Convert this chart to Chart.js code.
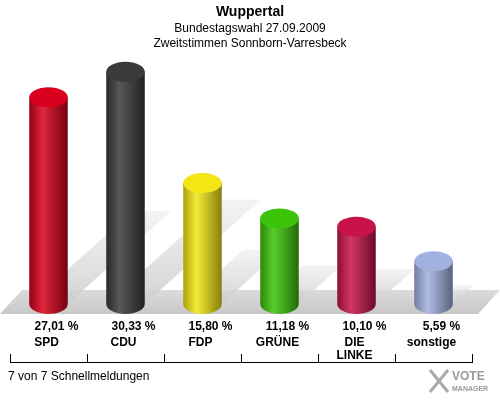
<!DOCTYPE html>
<html><head><meta charset="utf-8">
<script src="https://cdn.jsdelivr.net/npm/chart.js@4"></script>
<style>body{margin:0;background:#fff}#c{display:block}</style>
</head><body>
<canvas id="c" width="500" height="400"></canvas>
<script>
const parties = ['SPD', 'CDU', 'FDP', 'GRÜNE', 'DIE LINKE', 'sonstige']
const shares = [27.01, 30.33, 15.80, 11.18, 10.10, 5.59]
const colors = ['#d8001c', '#3a3a3a', '#f4e614', '#3cc40a', '#c8134a', '#a2b2e0']

function shade(hex, f) {
  const n = parseInt(hex.slice(1), 16)
  let r = n >> 16, g = (n >> 8) & 255, b = n & 255
  const m = v => Math.max(0, Math.min(255, Math.round(f > 0 ? v + (255 - v) * f : v * (1 + f))))
  return `rgb(${m(r)},${m(g)},${m(b)})`
}

const cylinders = {
  id: 'cylinders',
  beforeDatasetsDraw(chart) {
    const ctx = chart.ctx, a = chart.chartArea
    ctx.save()
    const fg = ctx.createLinearGradient(0, a.bottom - 22, 0, a.bottom + 10)
    fg.addColorStop(0, '#e2e2e2'); fg.addColorStop(1, '#c8c8c8')
    ctx.fillStyle = fg
    ctx.beginPath()
    ctx.moveTo(0, a.bottom + 10); ctx.lineTo(478, a.bottom + 10); ctx.lineTo(500, a.bottom - 14); ctx.lineTo(22, a.bottom - 14)
    ctx.closePath(); ctx.fill()
    const meta = chart.getDatasetMeta(0)
    meta.data.forEach(bar => {
      const w = bar.width, h = bar.base - bar.y
      const sg = ctx.createLinearGradient(0, bar.base, 0, bar.base - h * 0.45)
      sg.addColorStop(0, 'rgba(205,205,205,0.9)'); sg.addColorStop(1, 'rgba(235,235,235,0.6)')
      ctx.fillStyle = sg
      ctx.beginPath()
      ctx.moveTo(bar.x - w / 2, bar.base)
      ctx.lineTo(bar.x + w / 2, bar.base)
      ctx.lineTo(bar.x + w / 2 + h * 0.5, bar.base - h * 0.45)
      ctx.lineTo(bar.x - w / 2 + h * 0.5, bar.base - h * 0.45)
      ctx.closePath(); ctx.fill()
    })
    ctx.restore()
  },
  afterDatasetsDraw(chart) {
    const ctx = chart.ctx
    const meta = chart.getDatasetMeta(0)
    meta.data.forEach((bar, i) => {
      const w = bar.width, x0 = bar.x - w / 2, ry = 10
      const c = colors[i]
      const g = ctx.createLinearGradient(x0, 0, x0 + w, 0)
      g.addColorStop(0, shade(c, -0.3)); g.addColorStop(0.35, shade(c, 0.15)); g.addColorStop(1, shade(c, -0.45))
      ctx.save()
      ctx.fillStyle = g
      ctx.beginPath()
      ctx.moveTo(x0, bar.y)
      ctx.lineTo(x0, bar.base)
      ctx.ellipse(bar.x, bar.base, w / 2, ry, 0, Math.PI, 0, true)
      ctx.lineTo(x0 + w, bar.y)
      ctx.closePath(); ctx.fill()
      ctx.fillStyle = c
      ctx.beginPath(); ctx.ellipse(bar.x, bar.y, w / 2, ry, 0, 0, Math.PI * 2); ctx.fill()
      ctx.restore()
    })
  },
  afterDraw(chart) {
    const ctx = chart.ctx
    const meta = chart.getDatasetMeta(0)
    ctx.save()
    ctx.fillStyle = '#000'; ctx.textAlign = 'center'; ctx.textBaseline = 'middle'
    ctx.font = 'bold 14px Arial, "Liberation Sans"'
    ctx.fillText('Wuppertal', 250, 12)
    ctx.font = '12px Arial, "Liberation Sans"'
    ctx.fillText('Bundestagswahl 27.09.2009', 250, 29)
    ctx.fillText('Zweitstimmen Sonnborn-Varresbeck', 250, 44)
    ctx.font = 'bold 12px Arial, "Liberation Sans"'
    meta.data.forEach((bar, i) => {
      ctx.fillText(shares[i].toFixed(2).replace('.', ',') + ' %', bar.x + 8, 327)
      const p = parties[i].split(' ')
      if (p.length > 1) { ctx.fillText(p[0], bar.x - 2, 343); ctx.fillText(p[1], bar.x - 2, 356) }
      else ctx.fillText(p[0], bar.x - 2, 343)
    })
    ctx.strokeStyle = '#000'; ctx.lineWidth = 1
    ctx.beginPath(); ctx.moveTo(10, 362.5); ctx.lineTo(472, 362.5)
    for (let i = 0; i <= 6; i++) { const x = Math.round(10 + i * 77) + 0.5; ctx.moveTo(x, 354); ctx.lineTo(x, 363) }
    ctx.stroke()
    ctx.textAlign = 'left'; ctx.font = '12px Arial, "Liberation Sans"'
    ctx.fillText('7 von 7 Schnellmeldungen', 8, 377)
    ctx.fillStyle = '#999'; ctx.font = 'bold 12px Arial, "Liberation Sans"'
    ctx.fillText('VOTE', 452, 377)
    ctx.font = 'bold 7px Arial, "Liberation Sans"'
    ctx.fillText('MANAGER', 452, 389)
    ctx.lineWidth = 3; ctx.strokeStyle = '#aaa'
    ctx.beginPath(); ctx.moveTo(430, 370); ctx.lineTo(448, 392); ctx.moveTo(448, 370); ctx.lineTo(430, 392); ctx.stroke()
    ctx.restore()
  }
}

new Chart(document.getElementById('c'), {
  type: 'bar',
  data: { labels: parties, datasets: [{ data: shares, backgroundColor: 'rgba(0,0,0,0)', barPercentage: 0.5, categoryPercentage: 1 }] },
  options: {
    responsive: false, animation: false,
    layout: { padding: { left: 10, right: 28, top: 10, bottom: 96 } },
    plugins: { legend: { display: false }, tooltip: { enabled: false } },
    scales: {
      x: { display: false },
      y: { display: false, min: 0, max: 38.4 }
    }
  },
  plugins: [cylinders]
})
</script>
</body></html>
